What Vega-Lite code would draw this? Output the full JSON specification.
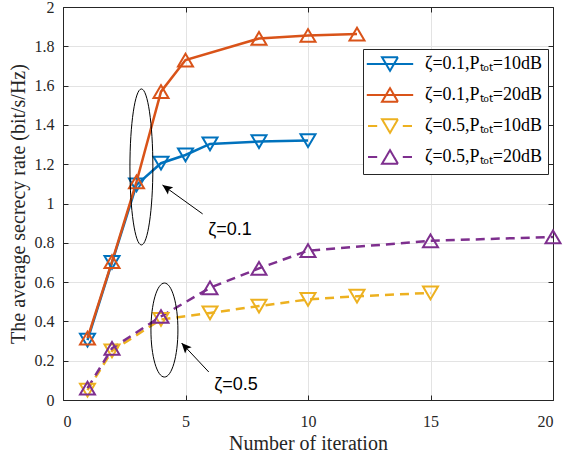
{
  "$schema": "https://vega.github.io/schema/vega-lite/v6.json",
  "width": 490,
  "height": 393,
  "autosize": {"type": "none"},
  "padding": {"left": 63, "top": 7, "right": 13, "bottom": 57},
  "background": "white",
  "datasets": {
    "rates": [
      {"series": "ζ=0.1,Pₜₒₜ=10dB", "x": 1, "y": 0.305},
      {"series": "ζ=0.1,Pₜₒₜ=10dB", "x": 2, "y": 0.70},
      {"series": "ζ=0.1,Pₜₒₜ=10dB", "x": 3, "y": 1.095},
      {"series": "ζ=0.1,Pₜₒₜ=10dB", "x": 4, "y": 1.205},
      {"series": "ζ=0.1,Pₜₒₜ=10dB", "x": 5, "y": 1.247},
      {"series": "ζ=0.1,Pₜₒₜ=10dB", "x": 6, "y": 1.303},
      {"series": "ζ=0.1,Pₜₒₜ=10dB", "x": 8, "y": 1.315},
      {"series": "ζ=0.1,Pₜₒₜ=10dB", "x": 10, "y": 1.32},
      {"series": "ζ=0.1,Pₜₒₜ=20dB", "x": 1, "y": 0.315},
      {"series": "ζ=0.1,Pₜₒₜ=20dB", "x": 2, "y": 0.704},
      {"series": "ζ=0.1,Pₜₒₜ=20dB", "x": 3, "y": 1.11},
      {"series": "ζ=0.1,Pₜₒₜ=20dB", "x": 4, "y": 1.569},
      {"series": "ζ=0.1,Pₜₒₜ=20dB", "x": 5, "y": 1.73},
      {"series": "ζ=0.1,Pₜₒₜ=20dB", "x": 8, "y": 1.84},
      {"series": "ζ=0.1,Pₜₒₜ=20dB", "x": 10, "y": 1.855},
      {"series": "ζ=0.1,Pₜₒₜ=20dB", "x": 12, "y": 1.862},
      {"series": "ζ=0.5,Pₜₒₜ=10dB", "x": 1, "y": 0.05},
      {"series": "ζ=0.5,Pₜₒₜ=10dB", "x": 2, "y": 0.25},
      {"series": "ζ=0.5,Pₜₒₜ=10dB", "x": 4, "y": 0.41},
      {"series": "ζ=0.5,Pₜₒₜ=10dB", "x": 6, "y": 0.443},
      {"series": "ζ=0.5,Pₜₒₜ=10dB", "x": 8, "y": 0.478},
      {"series": "ζ=0.5,Pₜₒₜ=10dB", "x": 10, "y": 0.512},
      {"series": "ζ=0.5,Pₜₒₜ=10dB", "x": 12, "y": 0.528},
      {"series": "ζ=0.5,Pₜₒₜ=10dB", "x": 15, "y": 0.545},
      {"series": "ζ=0.5,Pₜₒₜ=20dB", "x": 1, "y": 0.06},
      {"series": "ζ=0.5,Pₜₒₜ=20dB", "x": 2, "y": 0.263},
      {"series": "ζ=0.5,Pₜₒₜ=20dB", "x": 4, "y": 0.425},
      {"series": "ζ=0.5,Pₜₒₜ=20dB", "x": 6, "y": 0.571},
      {"series": "ζ=0.5,Pₜₒₜ=20dB", "x": 8, "y": 0.67},
      {"series": "ζ=0.5,Pₜₒₜ=20dB", "x": 10, "y": 0.76},
      {"series": "ζ=0.5,Pₜₒₜ=20dB", "x": 15, "y": 0.81},
      {"series": "ζ=0.5,Pₜₒₜ=20dB", "x": 20, "y": 0.83}
    ],
    "arrows": [
      {"arrow": 1, "x": 5.70, "y": 0.947},
      {"arrow": 1, "x": 4.06, "y": 1.094},
      {"arrow": 2, "x": 5.95, "y": 0.1425},
      {"arrow": 2, "x": 4.84, "y": 0.29}
    ],
    "notes": [
      {"label": "ζ=0.1", "x": 6.82, "y": 0.865},
      {"label": "ζ=0.5", "x": 7.06, "y": 0.076}
    ]
  },
  "layer": [
    {
      "data": {"name": "rates"},
      "mark": {"type": "point", "opacity": 0},
      "encoding": {
        "x": {"field": "x", "type": "quantitative", "scale": {"domain": [0, 20], "nice": false},
              "axis": {"orient": "top", "values": [0, 5, 10, 15, 20], "labels": false, "grid": false, "title": null, "tickSize": -5, "domainColor": "#262626", "tickColor": "#262626"}},
        "y": {"field": "y", "type": "quantitative", "scale": {"domain": [0, 2], "nice": false},
              "axis": {"orient": "right", "values": [0, 0.2, 0.4, 0.6, 0.8, 1, 1.2, 1.4, 1.6, 1.8, 2], "labels": false, "grid": false, "title": null, "tickSize": -5, "domainColor": "#262626", "tickColor": "#262626"}}
      }
    },
    {
      "data": {"name": "rates"},
      "transform": [{"filter": "indexof(datum.series,'ζ=0.1')>=0"}],
      "mark": {"type": "line", "strokeWidth": 2.5},
      "encoding": {
        "x": {"field": "x", "type": "quantitative", "scale": {"domain": [0, 20], "nice": false},
              "axis": {"orient": "bottom", "values": [0, 5, 10, 15, 20], "title": "Number of iteration", "grid": true, "tickSize": -5, "labelPadding": 18, "titlePadding": 4}},
        "y": {"field": "y", "type": "quantitative", "scale": {"domain": [0, 2], "nice": false},
              "axis": {"orient": "left", "values": [0, 0.2, 0.4, 0.6, 0.8, 1, 1.2, 1.4, 1.6, 1.8, 2], "format": "~g", "title": "The average secrecy rate (bit/s/Hz)", "grid": true, "tickSize": -5, "labelPadding": 14, "titlePadding": 6}},
        "color": {
          "field": "series", "type": "nominal",
          "scale": {"domain": ["ζ=0.1,Pₜₒₜ=10dB", "ζ=0.1,Pₜₒₜ=20dB", "ζ=0.5,Pₜₒₜ=10dB", "ζ=0.5,Pₜₒₜ=20dB"], "range": ["#0072BD", "#D95319", "#EDB120", "#7E2F8E"]},
          "legend": {
            "orient": "none", "legendX": 300, "legendY": 42, "title": null,
            "labelFont": "Liberation Serif", "labelFontSize": 18, "labelColor": "#000000", "labelLimit": 400,
            "strokeColor": "#262626", "fillColor": "white", "padding": 6,
            "symbolSize": 256, "symbolStrokeWidth": 2, "rowPadding": 9, "labelOffset": 26, "symbolOffset": 12,
            "symbolType": "M-2.9,0L2.9,0",
            "encode": {"symbols": {"update": {
              "shape": {"signal": "(indexof(datum.value,'0.5')>=0 ? 'M-2.75,0L-1.6,0M1.6,0L2.75,0' : 'M-2.9,0L2.9,0') + (indexof(datum.value,'20dB')>=0 ? 'M-1,0.85L1,0.85L0,-0.85Z' : 'M-1,-0.85L1,-0.85L0,0.85Z')"},
              "fill": {"value": "transparent"},
              "strokeWidth": {"value": 2},
              "strokeDash": {"value": [1, 0]},
              "opacity": {"value": 1}
            }}}
          }
        }
      }
    },
    {
      "data": {"name": "rates"},
      "transform": [{"filter": "indexof(datum.series,'ζ=0.5')>=0"}],
      "mark": {"type": "line", "strokeWidth": 2.5, "strokeDash": [9, 6]},
      "encoding": {
        "x": {"field": "x", "type": "quantitative", "axis": null},
        "y": {"field": "y", "type": "quantitative", "axis": null},
        "color": {"field": "series", "type": "nominal"}
      }
    },
    {
      "data": {"name": "rates"},
      "transform": [{"filter": "indexof(datum.series,'10dB')>=0"}],
      "mark": {"type": "point", "filled": false, "size": 225, "strokeWidth": 2, "opacity": 1, "shape": "M-1,-0.85L1,-0.85L0,0.85Z"},
      "encoding": {
        "x": {"field": "x", "type": "quantitative", "axis": null},
        "y": {"field": "y", "type": "quantitative", "axis": null},
        "color": {"field": "series", "type": "nominal"}
      }
    },
    {
      "data": {"name": "rates"},
      "transform": [{"filter": "indexof(datum.series,'20dB')>=0"}],
      "mark": {"type": "point", "filled": false, "size": 225, "strokeWidth": 2, "opacity": 1, "shape": "M-1,0.85L1,0.85L0,-0.85Z"},
      "encoding": {
        "x": {"field": "x", "type": "quantitative", "axis": null},
        "y": {"field": "y", "type": "quantitative", "axis": null},
        "color": {"field": "series", "type": "nominal"}
      }
    },
    {
      "data": {"values": [{"x": 3.2, "y": 1.186}]},
      "mark": {"type": "point", "filled": false, "stroke": "#000000", "strokeWidth": 1, "opacity": 1, "size": 24336,
               "shape": "M0,-1C0.081,-1 0.147,-0.552 0.147,0C0.147,0.552 0.081,1 0,1C-0.081,1 -0.147,0.552 -0.147,0C-0.147,-0.552 -0.081,-1 0,-1Z"},
      "encoding": {
        "x": {"field": "x", "type": "quantitative", "axis": null},
        "y": {"field": "y", "type": "quantitative", "axis": null}
      }
    },
    {
      "data": {"values": [{"x": 4.14, "y": 0.356}]},
      "mark": {"type": "point", "filled": false, "stroke": "#000000", "strokeWidth": 1, "opacity": 1, "size": 8836,
               "shape": "M0,-1C0.159,-1 0.287,-0.552 0.287,0C0.287,0.552 0.159,1 0,1C-0.159,1 -0.287,0.552 -0.287,0C-0.287,-0.552 -0.159,-1 0,-1Z"},
      "encoding": {
        "x": {"field": "x", "type": "quantitative", "axis": null},
        "y": {"field": "y", "type": "quantitative", "axis": null}
      }
    },
    {
      "data": {"name": "arrows"},
      "mark": {"type": "line", "stroke": "#000000", "strokeWidth": 1},
      "encoding": {
        "x": {"field": "x", "type": "quantitative", "axis": null},
        "y": {"field": "y", "type": "quantitative", "axis": null},
        "detail": {"field": "arrow", "type": "nominal"},
        "order": {"field": "x", "type": "quantitative"}
      }
    },
    {
      "data": {"values": [{"x": 4.06, "y": 1.094}]},
      "mark": {"type": "point", "filled": true, "fill": "#000000", "stroke": null, "opacity": 1, "size": 400, "angle": 306,
               "shape": "M0,0L-0.45,1L0,0.8L0.45,1Z"},
      "encoding": {
        "x": {"field": "x", "type": "quantitative", "axis": null},
        "y": {"field": "y", "type": "quantitative", "axis": null}
      }
    },
    {
      "data": {"values": [{"x": 4.84, "y": 0.29}]},
      "mark": {"type": "point", "filled": true, "fill": "#000000", "stroke": null, "opacity": 1, "size": 400, "angle": 317,
               "shape": "M0,0L-0.45,1L0,0.8L0.45,1Z"},
      "encoding": {
        "x": {"field": "x", "type": "quantitative", "axis": null},
        "y": {"field": "y", "type": "quantitative", "axis": null}
      }
    },
    {
      "data": {"name": "notes"},
      "mark": {"type": "text", "font": "Liberation Sans", "fontSize": 18, "color": "#000000", "align": "center", "baseline": "middle"},
      "encoding": {
        "x": {"field": "x", "type": "quantitative", "axis": null},
        "y": {"field": "y", "type": "quantitative", "axis": null},
        "text": {"field": "label", "type": "nominal"}
      }
    }
  ],
  "resolve": {"axis": {"x": "independent", "y": "independent"}},
  "config": {
    "font": "Liberation Serif",
    "view": {"stroke": null},
    "axis": {
      "labelFont": "Liberation Serif", "labelFontSize": 16, "labelColor": "#262626",
      "titleFont": "Liberation Serif", "titleFontSize": 20, "titleFontWeight": "normal", "titleColor": "#262626",
      "domainColor": "#262626", "domainWidth": 1, "tickColor": "#262626", "tickWidth": 1,
      "gridColor": "#e3e3e3", "gridWidth": 1, "gridOpacity": 1
    }
  }
}
